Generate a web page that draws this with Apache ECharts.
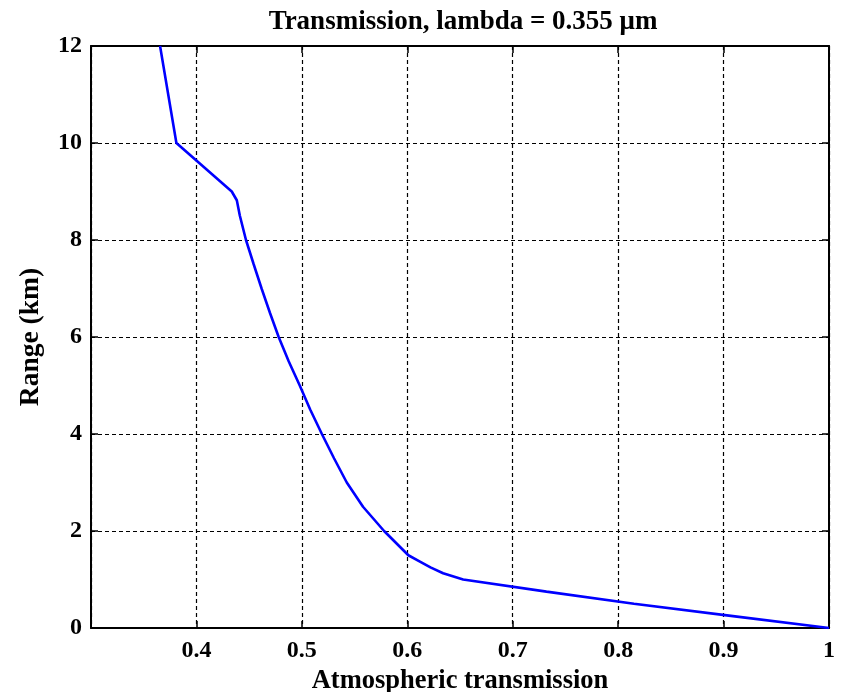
<!DOCTYPE html>
<html>
<head>
<meta charset="utf-8">
<script src="https://cdn.jsdelivr.net/npm/echarts@6/dist/echarts.min.js"></script>
<style>html,body{margin:0;padding:0;background:#fff;}#chart{width:844px;height:692px;}</style>
</head>
<body>
<div id="chart"></div>
<script>
const titleText = 'Transmission, lambda = 0.355 μm';
const xName = 'Atmospheric transmission';
const yName = 'Range (km)';
const rangeKm = [0, 0.25, 0.5, 0.75, 1.0, 1.13, 1.25, 1.37, 1.5, 2, 2.5, 3, 3.5, 4, 4.5, 5, 5.5, 6, 6.5, 7, 7.5, 8, 8.5, 8.82, 9, 10, 12];
const transmission = [1.0, 0.907, 0.815, 0.732, 0.653, 0.634, 0.622, 0.612, 0.601, 0.578, 0.558, 0.5426, 0.5305, 0.519, 0.508, 0.498, 0.4875, 0.478, 0.4697, 0.4618, 0.4543, 0.447, 0.4412, 0.4383, 0.4335, 0.381, 0.3655];
const xMin = 0.3, xMax = 1, xStep = 0.1;
const yMin = 0, yMax = 12, yStep = 2;

const font = 'Liberation Serif';
const chart = echarts.init(document.getElementById('chart'));
const pts = rangeKm.map((r, i) => [transmission[i], r]);
const gridLine = {show: true, lineStyle: {color: '#000', width: 1.2, type: [4, 3]}};
const axisLineS = {show: true, onZero: false, lineStyle: {color: '#000', width: 2}};
const tickS = {show: true, inside: true, length: 7, lineStyle: {color: '#000', width: 1.5}};
chart.setOption({
  animation: false,
  backgroundColor: '#fff',
  title: {
    text: titleText, left: 458, top: 4, textAlign: 'center',
    textStyle: {fontFamily: font, fontWeight: 'bold', fontSize: 27, color: '#000'}
  },
  grid: {left: 91, right: 15, top: 46, bottom: 64, containLabel: false, outerBoundsMode: 'none'},
  xAxis: [{
    type: 'value', min: xMin, max: xMax, interval: xStep,
    name: xName, nameLocation: 'middle', nameGap: 37,
    nameTextStyle: {fontFamily: font, fontWeight: 'bold', fontSize: 26.5, color: '#000'},
    axisLine: axisLineS, axisTick: tickS, splitLine: gridLine,
    axisLabel: {showMinLabel: false, margin: 11, fontFamily: font, fontWeight: 'bold', fontSize: 24, color: '#000',
      formatter: v => String(+v.toFixed(1))}
  }, {
    type: 'value', position: 'top', min: xMin, max: xMax, interval: xStep,
    axisLine: axisLineS, axisTick: tickS, splitLine: {show: false}, axisLabel: {show: false}
  }],
  yAxis: [{
    type: 'value', min: yMin, max: yMax, interval: yStep,
    name: yName, nameLocation: 'middle', nameGap: 46, nameRotate: 90,
    nameTextStyle: {fontFamily: font, fontWeight: 'bold', fontSize: 27.5, color: '#000'},
    axisLine: axisLineS, axisTick: tickS, splitLine: gridLine,
    axisLabel: {margin: 9, fontFamily: font, fontWeight: 'bold', fontSize: 24, color: '#000'}
  }, {
    type: 'value', position: 'right', min: yMin, max: yMax, interval: yStep,
    axisLine: axisLineS, axisTick: tickS, splitLine: {show: false}, axisLabel: {show: false}
  }],
  series: [{
    type: 'line', xAxisIndex: 0, yAxisIndex: 0, data: pts,
    showSymbol: false, smooth: false,
    lineStyle: {color: '#0000ff', width: 2.6}
  }]
});
</script>
</body>
</html>
